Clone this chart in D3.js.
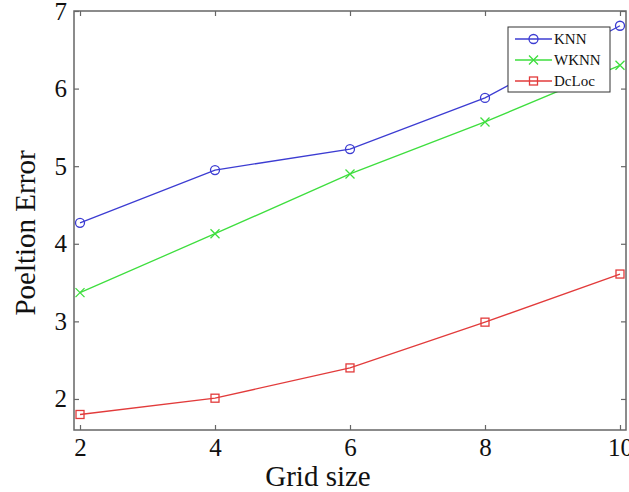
<!DOCTYPE html>
<html>
<head>
<meta charset="utf-8">
<script src="https://cdn.jsdelivr.net/npm/d3@7"></script>
<style>
  body { margin: 0; background: #fff; }
</style>
</head>
<body>
<div id="chart"></div>
<script>
let grid_sizes = [2, 4, 6, 8, 10]
let knn = [4.27, 4.95, 5.22, 5.88, 6.81]
let wknn = [3.37, 4.13, 4.90, 5.57, 6.30]
let dcloc = [1.80, 2.01, 2.40, 2.99, 3.61]
let y_ticks = [2, 3, 4, 5, 6, 7]
let series_names = ["KNN", "WKNN", "DcLoc"]

let width = 629
let height = 492
let plot = { left: 74, top: 11, right: 626, bottom: 430 }
let serif = "Liberation Serif, Times New Roman, serif"

let svg = d3.select("#chart").append("svg")
    .attr("width", width)
    .attr("height", height)
    .attr("font-family", serif)

let x = d3.scaleLinear().domain([1.911, 10.089]).range([plot.left, plot.right])
let y = d3.scaleLinear().domain([1.6, 7]).range([plot.bottom, plot.top])

let axis_color = "#666"

// frame
svg.append("rect")
    .attr("x", plot.left)
    .attr("y", plot.top)
    .attr("width", plot.right - plot.left)
    .attr("height", plot.bottom - plot.top)
    .style("fill", "none")
    .style("stroke", axis_color)
    .style("stroke-width", 1.5)

// axes with inward ticks
let tick_len = 5
let x_axis = svg.append("g")
    .attr("transform", `translate(0,${plot.bottom})`)
    .call(d3.axisBottom(x).tickValues(grid_sizes).tickFormat(d3.format("d"))
        .tickSize(-tick_len).tickPadding(8))
let y_axis = svg.append("g")
    .attr("transform", `translate(${plot.left},0)`)
    .call(d3.axisLeft(y).tickValues(y_ticks).tickFormat(d3.format("d"))
        .tickSize(-tick_len).tickPadding(7))
let x_top = svg.append("g")
    .attr("transform", `translate(0,${plot.top})`)
    .call(d3.axisTop(x).tickValues(grid_sizes).tickSize(-tick_len).tickFormat(""))
let y_right = svg.append("g")
    .attr("transform", `translate(${plot.right},0)`)
    .call(d3.axisRight(y).tickValues(y_ticks).tickSize(-tick_len).tickFormat(""))

;[x_axis, y_axis, x_top, y_right].forEach((g) => {
    g.attr("font-family", serif).attr("font-size", 25)
    g.select(".domain").remove()
    g.selectAll(".tick line").style("stroke", axis_color).style("stroke-width", 1.2)
    g.selectAll("text").style("fill", "#111")
})

// axis titles
svg.append("text")
    .attr("x", 318)
    .attr("y", 486)
    .attr("text-anchor", "middle")
    .attr("font-size", 29)
    .style("fill", "#111")
    .text("Grid size")

svg.append("text")
    .attr("transform", `translate(35,233) rotate(-90)`)
    .attr("text-anchor", "middle")
    .attr("font-size", 29)
    .style("fill", "#111")
    .text("Poeltion Error")

let series = [
    { name: series_names[0], values: knn, color: "#3c3cd2", marker: "circle" },
    { name: series_names[1], values: wknn, color: "#3ede3e", marker: "cross" },
    { name: series_names[2], values: dcloc, color: "#e23b3b", marker: "square" }
]

let line = d3.line()
    .x((d) => x(d[0]))
    .y((d) => y(d[1]))

let draw_marker = function(g, kind, cx, cy, color) {
    if (kind == "circle") {
        g.append("circle").attr("cx", cx).attr("cy", cy).attr("r", 4.5)
            .style("fill", "none").style("stroke", color).style("stroke-width", 1.3)
    } else if (kind == "cross") {
        let s = 4.5
        g.append("path")
            .attr("d", `M${cx - s},${cy - s}L${cx + s},${cy + s}M${cx - s},${cy + s}L${cx + s},${cy - s}`)
            .style("stroke", color).style("stroke-width", 1.3)
    } else {
        let s = 4
        g.append("rect").attr("x", cx - s).attr("y", cy - s).attr("width", 2 * s).attr("height", 2 * s)
            .style("fill", "none").style("stroke", color).style("stroke-width", 1.3)
    }
}

series.forEach((s) => {
    let pts = grid_sizes.map((g, i) => [g, s.values[i]])
    let g = svg.append("g").attr("class", "series")
    g.append("path")
        .attr("d", line(pts))
        .style("fill", "none")
        .style("stroke", s.color)
        .style("stroke-width", 1.3)
    pts.forEach((p) => draw_marker(g, s.marker, x(p[0]), y(p[1]), s.color))
})

// legend
let legend = svg.append("g").attr("class", "legend")
legend.append("rect")
    .attr("x", 508)
    .attr("y", 27)
    .attr("width", 102)
    .attr("height", 65)
    .style("fill", "#fff")
    .style("stroke", "#333")
    .style("stroke-width", 1)

series.forEach((s, i) => {
    let ly = 39 + i * 21
    legend.append("line")
        .attr("x1", 515).attr("x2", 552)
        .attr("y1", ly).attr("y2", ly)
        .style("stroke", s.color).style("stroke-width", 1.3)
    draw_marker(legend, s.marker, 533.5, ly, s.color)
    legend.append("text")
        .attr("x", 554)
        .attr("y", ly + 5)
        .attr("font-size", 15)
        .style("fill", "#111")
        .text(s.name)
})
</script>
</body>
</html>
